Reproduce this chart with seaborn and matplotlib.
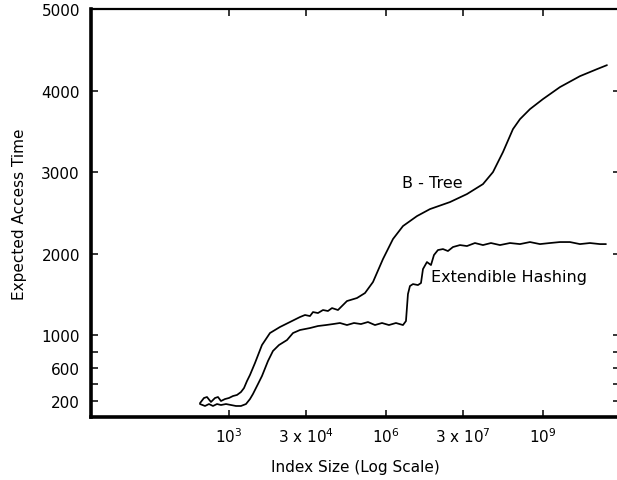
""" expected access time vs index size: b-tree and extendible hashing """
import numpy as np
import pandas as pd
import matplotlib
matplotlib.use("Agg")
import matplotlib.pyplot as plt
import seaborn as sns

# values (x is log10 of index size)
btree_log_size = [2.446, 2.522, 2.580, 2.656, 2.733, 2.790, 2.847, 2.924, 3.000, 3.076,
                  3.153, 3.229, 3.287, 3.344, 3.401, 3.497, 3.630, 3.783, 3.974, 4.165,
                  4.356, 4.452, 4.547, 4.605, 4.700, 4.796, 4.891, 4.968, 5.082, 5.254,
                  5.445, 5.598, 5.751, 5.942, 6.133, 6.324, 6.591, 6.840, 7.222, 7.546,
                  7.852, 8.043, 8.234, 8.425, 8.559, 8.750, 8.998, 9.323, 9.705, 10.030,
                  10.221]
btree_time = [170, 233, 245, 184, 233, 245, 196, 220, 233, 257,
              270, 306, 355, 441, 515, 662, 882, 1029, 1103, 1164,
              1225, 1250, 1237, 1286, 1274, 1311, 1299, 1335, 1311, 1421,
              1458, 1519, 1654, 1936, 2181, 2340, 2462, 2548, 2634, 2732,
              2854, 3001, 3246, 3528, 3650, 3773, 3896, 4043, 4177, 4263,
              4312]

hash_log_size = [2.446, 2.542, 2.618, 2.694, 2.771, 2.847, 2.943, 3.038, 3.134, 3.229,
                 3.325, 3.401, 3.458, 3.554, 3.630, 3.745, 3.840, 3.955, 4.108, 4.223,
                 4.356, 4.547, 4.700, 4.853, 4.987, 5.120, 5.254, 5.388, 5.521, 5.655,
                 5.789, 5.923, 6.056, 6.190, 6.324, 6.381, 6.419, 6.457, 6.515, 6.610,
                 6.668, 6.706, 6.782, 6.859, 6.916, 6.992, 7.088, 7.183, 7.279, 7.413,
                 7.546, 7.699, 7.852, 8.005, 8.177, 8.368, 8.559, 8.750, 8.941, 9.132,
                 9.323, 9.514, 9.705, 9.896, 10.087, 10.202]
hash_time = [159, 135, 159, 135, 159, 147, 159, 147, 135, 135,
             159, 220, 282, 404, 502, 686, 809, 882, 943, 1029,
             1066, 1090, 1115, 1127, 1139, 1152, 1127, 1152, 1139, 1164,
             1127, 1152, 1127, 1152, 1127, 1176, 1507, 1605, 1629, 1617,
             1642, 1813, 1899, 1862, 1985, 2046, 2058, 2034, 2083, 2107,
             2095, 2132, 2107, 2132, 2107, 2132, 2119, 2144, 2119, 2132,
             2144, 2144, 2119, 2132, 2119, 2119]

x_tick_values = [1e3, 3e4, 1e6, 3e7, 1e9]
x_tick_labels = [r"$10^{3}$", r"3 x $10^{4}$", r"$10^{6}$", r"3 x $10^{7}$", r"$10^{9}$"]
y_tick_values = [200, 400, 600, 800, 1000, 2000, 3000, 4000, 5000]
y_tick_labels = ["200", "", "600", "", "1000", "2000", "3000", "4000", "5000"]


def main():
    df = pd.concat([
        pd.DataFrame({"size": np.power(10.0, btree_log_size), "time": btree_time, "index": "B - Tree"}),
        pd.DataFrame({"size": np.power(10.0, hash_log_size), "time": hash_time, "index": "Extendible Hashing"}),
    ], ignore_index=True)

    sns.set_style("ticks")
    plt.rcParams["font.family"] = ["DejaVu Sans"]
    plt.rcParams["text.color"] = "black"
    plt.rcParams["axes.labelcolor"] = "black"

    fig = plt.figure(figsize=(6.17, 4.81), dpi=100)
    ax = fig.add_axes([91 / 617, 1 - 418 / 481, 529 / 617, 408 / 481])

    sns.lineplot(data=df, x="size", y="time", hue="index", palette=["black", "black"],
                 estimator=None, sort=False, legend=False, linewidth=1.25, ax=ax)

    ax.set_xscale("log")
    ax.set_xlim(10 ** 0.364, 10 ** 10.47)
    ax.set_ylim(0, 5000)
    ax.set_xticks(x_tick_values)
    ax.set_xticklabels(x_tick_labels)
    ax.xaxis.set_minor_locator(matplotlib.ticker.NullLocator())
    ax.set_yticks(y_tick_values)
    ax.set_yticklabels(y_tick_labels)

    ax.tick_params(axis="both", which="major", direction="in", length=5, width=1.1,
                   top=True, right=True, labelsize=11, color="black", labelcolor="black")
    ax.tick_params(axis="y", pad=8)
    ax.tick_params(axis="x", pad=7)

    for side, lw in [("left", 2.6), ("bottom", 2.6), ("top", 1.6), ("right", 1.6)]:
        ax.spines[side].set_linewidth(lw)
        ax.spines[side].set_color("black")

    ax.set_xlabel("Index Size (Log Scale)", fontsize=11, labelpad=10)
    ax.set_ylabel("Expected Access Time", fontsize=11, labelpad=10)

    ax.text(10 ** 6.3, 2870, "B - Tree", fontsize=11.5, ha="left", va="center")
    ax.text(10 ** 6.85, 1720, "Extendible Hashing", fontsize=11.5, ha="left", va="center")

    fig.savefig("out.png", dpi=100)
    plt.close(fig)


if __name__ == "__main__":
    main()
